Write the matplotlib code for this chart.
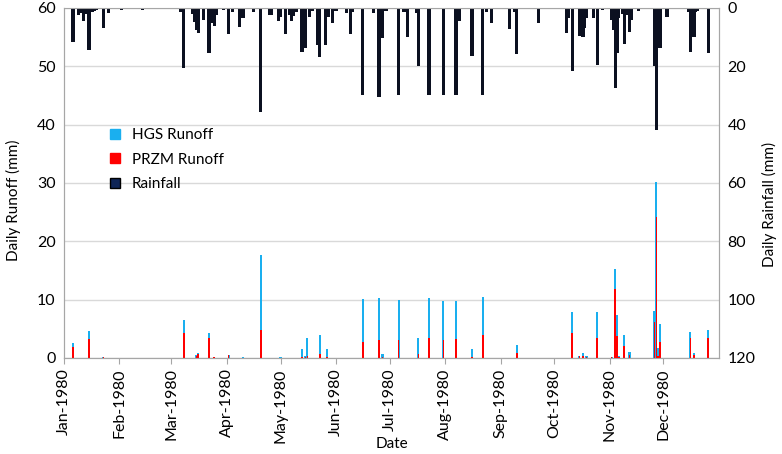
import datetime as dt
import matplotlib
matplotlib.use("Agg")
import matplotlib.pyplot as plt
import matplotlib.dates as mdates
from matplotlib.lines import Line2D

plt.rcParams['font.family'] = ['Lato', 'DejaVu Sans']

# day of year (0 = 1 Jan 1980) and daily rainfall (mm)
rain_days = [5, 8, 9, 11, 12, 14, 16, 17, 18, 22, 25, 32, 44, 50, 53, 54,
             65, 67, 72, 73, 74, 75, 78, 81, 83, 84, 85, 89, 92, 94, 98, 100,
             106, 110, 115, 116, 120, 121, 124, 126, 127, 128, 130, 133, 134,
             135, 137, 139, 142, 143, 146, 148, 150, 152, 158, 160, 161, 167,
             173, 176, 177, 178, 180, 187, 190, 192, 197, 198, 204, 212, 219,
             221, 228, 234, 236, 239, 243, 249, 252, 253, 265, 281, 282, 284,
             288, 290, 291, 292, 296, 298, 301, 306, 307, 308, 309, 310, 312,
             313, 314, 316, 317, 321, 323, 325, 330, 331, 332, 333, 337, 349,
             350, 352, 353, 354, 360]
rain_mm = [11.8, 2.4, 1.7, 4.5, 2.0, 14.4, 1.5, 1.0, 0.8, 7.0, 1.8, 0.8, 0.6, 0.5, 0.5, 0.4,
           1.5, 20.5, 2.0, 4.7, 7.5, 8.7, 4.0, 15.5, 5.0, 6.2, 2.5, 0.8, 9.0, 1.5, 6.4, 3.5,
           1.5, 35.8, 2.4, 2.5, 4.6, 3.2, 9.0, 2.5, 4.6, 2.9, 1.5, 15.0, 2.5,
           13.8, 3.0, 1.0, 12.7, 16.7, 12.7, 3.0, 5.2, 1.0, 1.8, 9.0, 1.5, 30.0,
           1.8, 30.4, 5.0, 10.4, 1.0, 30.0, 1.5, 9.8, 1.8, 20.0, 30.0, 30.0, 30.0,
           4.6, 16.3, 30.0, 1.3, 5.3, 0.5, 7.2, 1.5, 15.9, 5.3, 8.7, 3.5, 21.6,
           9.5, 9.8, 7.0, 3.5, 3.5, 19.5, 0.6, 4.0, 7.5, 27.5, 15.5, 3.5, 2.0,
           12.5, 2.5, 8.1, 4.0, 1.0, 0.5, 0.5, 20.0, 42.0, 9.0, 13.8, 3.0, 1.5,
           15.2, 9.8, 1.5, 1.0, 15.5]

# day of year and daily runoff (mm) from the two models
runoff_days = [5, 14, 22, 67, 74, 75, 81, 84, 92, 100, 110, 121, 133, 135, 136,
               143, 147, 167, 176, 178, 187, 198, 204, 212, 219, 228, 234, 253,
               284, 288, 290, 292, 298, 306, 308, 309, 310, 313, 316, 330, 331,
               332, 333, 350, 352, 360]
hgs_runoff = [2.6, 4.6, 0.2, 6.5, 0.5, 0.8, 4.2, 0.2, 0.5, 0.1, 17.7, 0.1, 1.5, 0.4, 3.4,
              3.9, 1.5, 10.1, 10.2, 0.6, 9.9, 3.4, 10.2, 9.7, 9.7, 1.5, 10.4, 2.2,
              7.9, 0.4, 0.9, 0.4, 7.8, 0.2, 15.3, 7.3, 0.3, 3.9, 1.1, 8.1, 30.1,
              1.7, 5.8, 4.4, 0.9, 4.8]
przm_runoff = [1.8, 3.2, 0.15, 4.3, 0.3, 0.6, 3.4, 0.1, 0.5, 0.05, 4.8, 0.05, 0.1, 0.2, 0.4,
               0.6, 0.2, 2.8, 3.1, 0.1, 3.0, 0.6, 3.4, 3.1, 3.2, 0.2, 3.9, 0.9,
               4.2, 0.3, 0.4, 0.1, 3.5, 0.1, 11.8, 3.8, 0.1, 2.1, 0.5, 6.2, 24.1,
               0.3, 2.8, 3.4, 0.5, 3.5]

start = dt.datetime(1980, 1, 1)
rain_dates = [start + dt.timedelta(days=d) for d in rain_days]
runoff_dates = [start + dt.timedelta(days=d) for d in runoff_days]
month_ticks = [dt.datetime(1980, m, 1) for m in range(1, 13)]

hgs_color = '#1AAFEF'
przm_color = '#FF0000'
rain_color = '#0B1020'
grid_color = '#D9D9D9'
spine_color = '#A6A6A6'

fig, ax = plt.subplots(figsize=(7.82, 4.54), dpi=100)
fig.subplots_adjust(left=0.0818, right=0.9194, top=0.9824, bottom=0.2115)

ax.bar(runoff_dates, hgs_runoff, width=1.2, color=hgs_color, zorder=2)
ax.bar(runoff_dates, przm_runoff, width=0.9, color=przm_color, zorder=3)
ax.set_ylim(0, 60)
ax.set_yticks(range(0, 61, 10))
ax.yaxis.grid(True, color=grid_color, linewidth=1)
ax.set_axisbelow(True)
ax.set_xlim(start, dt.datetime(1981, 1, 1))
ax.set_xticks(month_ticks)
ax.xaxis.set_major_formatter(mdates.DateFormatter('%b-%Y'))
plt.setp(ax.get_xticklabels(), rotation=90, ha='center')
ax.tick_params(axis='y', length=0, labelsize=11.5, pad=6)
ax.tick_params(axis='x', length=4, color=spine_color, labelsize=11.5)
ax.set_ylabel('Daily Runoff (mm)', fontsize=11)
ax.yaxis.set_label_coords(-0.066, 0.45)
ax.set_xlabel('Date', fontsize=11)
ax.xaxis.set_label_coords(0.5, -0.225)

ax2 = ax.twinx()
ax2.bar(rain_dates, rain_mm, width=1.8, color=rain_color, zorder=2)
ax2.set_ylim(120, 0)
ax2.set_yticks(range(0, 121, 20))
ax2.tick_params(axis='y', length=0, labelsize=11.5, pad=6)
ax2.set_ylabel('Daily Rainfall (mm)', fontsize=11)
ax2.yaxis.set_label_coords(1.066, 0.44)

for a in (ax, ax2):
    for s in a.spines.values():
        s.set_color(spine_color)
ax.spines['top'].set_visible(False)

handles = [
    Line2D([], [], marker='s', linestyle='none', markersize=7,
           markerfacecolor=hgs_color, markeredgecolor=hgs_color),
    Line2D([], [], marker='s', linestyle='none', markersize=7,
           markerfacecolor=przm_color, markeredgecolor=przm_color),
    Line2D([], [], marker='s', linestyle='none', markersize=7,
           markerfacecolor='#0F2557', markeredgecolor='black'),
]
ax2.legend(handles, ['HGS Runoff', 'PRZM Runoff', 'Rainfall'],
           loc='upper left', bbox_to_anchor=(0.045, 0.675), frameon=False,
           fontsize=11, handletextpad=0.1, labelspacing=0.7, borderaxespad=0)

fig.savefig('out.png', dpi=100)
